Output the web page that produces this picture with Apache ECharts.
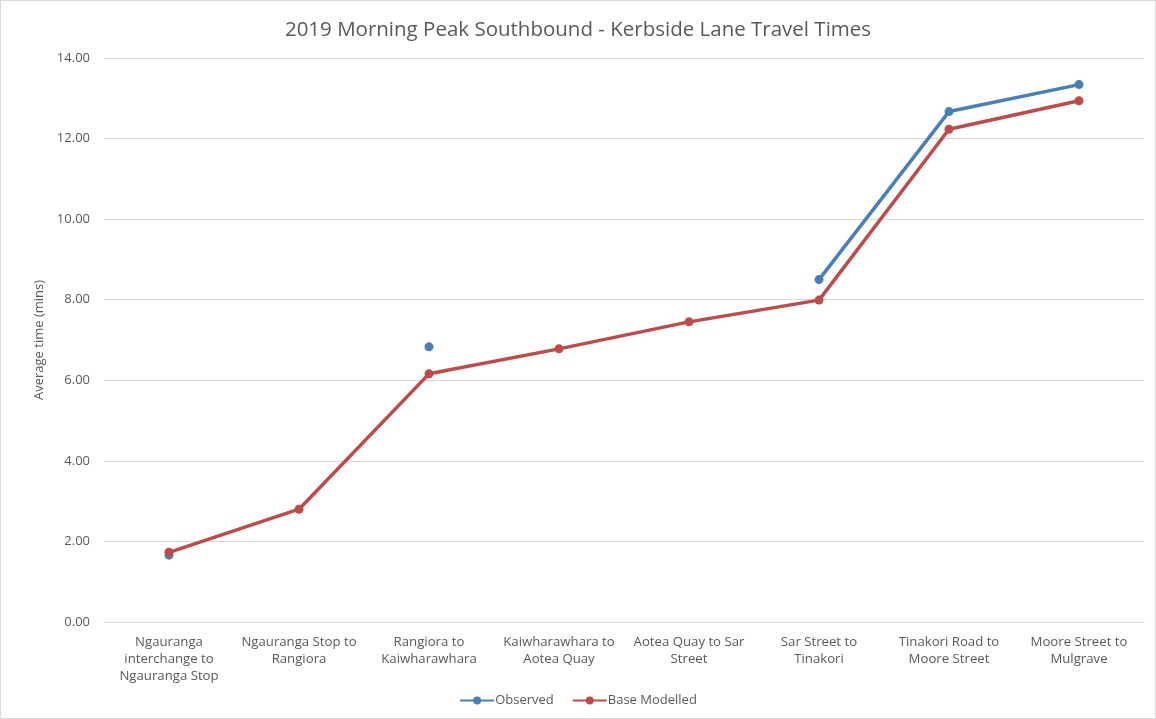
<!DOCTYPE html>
<html><head><meta charset="utf-8">
<script src="https://cdn.jsdelivr.net/npm/echarts@6/dist/echarts.min.js"></script>
<style>html,body{margin:0;padding:0;background:#fff}#c{width:1156px;height:719px;box-sizing:border-box;border:1px solid #d9d9d9}</style>
</head><body><div id="c"></div>
<script>
const categories = ['Ngauranga\ninterchange to\nNgauranga Stop','Ngauranga Stop to\nRangiora','Rangiora to\nKaiwharawhara','Kaiwharawhara to\nAotea Quay','Aotea Quay to Sar\nStreet','Sar Street to\nTinakori','Tinakori Road to\nMoore Street','Moore Street to\nMulgrave'];
const observed = [1.66, null, 6.83, null, null, 8.50, 12.67, 13.34];
const baseModelled = [1.73, 2.80, 6.16, 6.78, 7.45, 7.99, 12.23, 12.94];
const yTicks = {min: 0, max: 14, interval: 2};

const chart = echarts.init(document.getElementById('c'));
const txt = '#595959';
const font = 'Open Sans';
chart.setOption({
  animation: false,
  title: {text: '2019 Morning Peak Southbound - Kerbside Lane Travel Times', left: 'center', top: 14,
    textStyle: {fontFamily: font, fontSize: 20.5, fontWeight: 'normal', color: txt}},
  legend: {bottom: 6, left: 'center', itemWidth: 34, itemHeight: 10, itemGap: 18,
    textStyle: {fontFamily: font, fontSize: 13, color: txt, padding: [0,0,0,-4]},
    data: ['Observed', 'Base Modelled']},
  grid: {left: 103, right: 11, top: 57, bottom: 96},
  xAxis: {type: 'category', data: categories, boundaryGap: true,
    axisLine: {lineStyle: {color: '#d9d9d9'}}, axisTick: {show: false},
    axisLabel: {interval: 0, fontFamily: font, fontSize: 13.2, color: txt, lineHeight: 17, margin: 12}},
  yAxis: {type: 'value', min: yTicks.min, max: yTicks.max, interval: yTicks.interval,
    name: 'Average time (mins)', nameLocation: 'middle', nameGap: 58, nameRotate: 90,
    nameTextStyle: {fontFamily: font, fontSize: 13, color: txt},
    axisLabel: {formatter: v => v.toFixed(2), fontFamily: font, fontSize: 13, color: txt, margin: 14},
    splitLine: {lineStyle: {color: '#d9d9d9', width: 1}}, axisLine: {show: false}, axisTick: {show: false}},
  series: [
    {name: 'Observed', type: 'line', data: observed, connectNulls: false, symbol: 'circle', symbolSize: 9,
      itemStyle: {color: '#4a7ebb'}, lineStyle: {width: 3.5, color: '#4a7ebb'}},
    {name: 'Base Modelled', type: 'line', data: baseModelled, symbol: 'circle', symbolSize: 9,
      itemStyle: {color: '#be4b48'}, lineStyle: {width: 3.5, color: '#be4b48'}}
  ]
});
</script></body></html>
